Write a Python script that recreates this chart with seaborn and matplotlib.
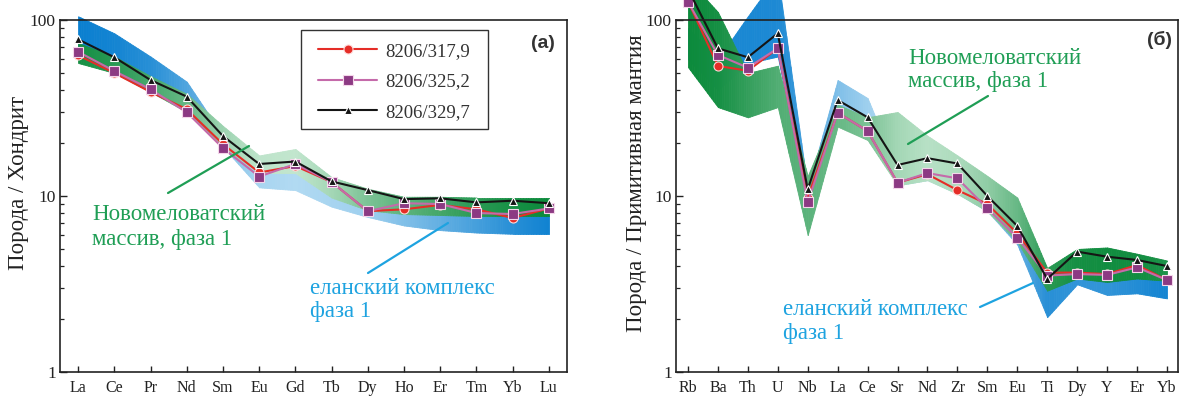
import numpy as np
import pandas as pd
import matplotlib
matplotlib.use("Agg")
import matplotlib.pyplot as plt
import matplotlib.colors as mcolors
from matplotlib.lines import Line2D
from matplotlib.patches import Rectangle
from matplotlib.ticker import FixedLocator, FixedFormatter, LogLocator, NullFormatter
import seaborn as sns

# ---------------- data ----------------
ree = ['La', 'Ce', 'Pr', 'Nd', 'Sm', 'Eu', 'Gd', 'Tb', 'Dy', 'Ho', 'Er', 'Tm', 'Yb', 'Lu']
ree_317 = [63, 50, 39, 31.1, 19.7, 13.6, 14.8, 12.0, 8.2, 8.4, 8.9, 8.4, 7.5, 8.5]
ree_325 = [66, 51.3, 40.4, 29.9, 18.7, 12.9, 15.2, 12.0, 8.2, 9.1, 9.0, 8.0, 7.9, 8.5]
ree_329 = [77.6, 61.4, 45.6, 36.7, 21.9, 15.2, 15.7, 12.1, 10.8, 9.6, 9.7, 9.2, 9.4, 9.1]
# field envelopes (chondrite)
ree_nov_hi = [74, 62, 48, 38, 25, 17.0, 18.5, 12.8, 11.0, 9.9, 9.9, 9.8, 9.8, 9.8]
ree_nov_lo = [57, 50, 39, 30, 19, 13.5, 13.5, 9.8, 8.3, 7.9, 7.8, 7.7, 7.7, 7.7]
ree_elan_hi = [105, 84, 62, 44.6, 22, 14.0, 13.5, 9.8, 8.3, 7.9, 7.8, 7.7, 7.7, 7.7]
ree_elan_lo = [60, 52, 40, 31, 19, 11.2, 10.8, 8.7, 7.6, 6.8, 6.4, 6.2, 6.1, 6.1]

spd = ['Rb', 'Ba', 'Th', 'U', 'Nb', 'La', 'Ce', 'Sr', 'Nd', 'Zr', 'Sm', 'Eu', 'Ti', 'Dy', 'Y', 'Er', 'Yb']
spd_317 = [128, 54.8, 51.5, 69, 9.8, 29.7, 23.4, 11.9, 13.3, 10.8, 9.0, 6.14, 3.67, 3.67, 3.6, 4.05, 3.33]
spd_325 = [127, 63.3, 53.6, 69, 9.2, 29.7, 23.4, 11.9, 13.5, 12.6, 8.5, 5.8, 3.53, 3.6, 3.56, 3.93, 3.33]
spd_329 = [150, 69, 61.4, 84, 10.9, 35.1, 28, 15.0, 16.4, 15.3, 10.0, 6.76, 3.38, 4.83, 4.52, 4.33, 4.0]
# field envelopes (primitive mantle)
spd_nov_hi = [170, 111, 50, 55, 13, 33, 28, 30, 22, 17, 13, 9.8, 3.9, 5.0, 5.1, 4.7, 4.3]
spd_nov_lo = [54, 32, 28, 32, 6, 24.8, 20.8, 11.5, 12.3, 10.3, 8.2, 5.5, 2.9, 3.4, 3.25, 3.4, 3.3]
spd_elan_hi = [90, 60, 105, 180, 11, 45.6, 36, 14, 14.5, 13, 10, 6.8, 3.0, 3.6, 3.3, 3.4, 3.3]
spd_elan_lo = [60, 40, 56.8, 62, 9, 33, 27, 11.5, 12.3, 10.3, 8.2, 5.3, 2.05, 3.15, 2.74, 2.8, 2.62]

samples = ['8206/317,9', '8206/325,2', '8206/329,7']
ytick_vals = [1, 10, 100]
ytick_text = ['1', '10', '100']

# ---------------- style ----------------
sns.set_theme(style="white")
plt.rcParams['font.family'] = ['Liberation Serif', 'DejaVu Serif']

W, H = 1180, 396
fig = plt.figure(figsize=(W / 100, H / 100), dpi=100)
fig.patch.set_facecolor('white')


def P(x, y):
    return (x / W, 1 - y / H)


ax1 = fig.add_axes([60 / W, 24 / H, 507 / W, 352 / H])
ax2 = fig.add_axes([676 / W, 24 / H, 502 / W, 352 / H])

GREEN_D, GREEN_L = '#0b8a3b', '#d6f0de'
BLUE_D, BLUE_L = '#0a7fd0', '#cfeaf8'

# gradient shading (0 = dark, 1 = light) along x
ree_nov_shade = [0.05, 0.15, 0.3, 0.45, 0.72, 0.88, 0.9, 0.75, 0.55, 0.4, 0.28, 0.15, 0.06, 0.0]
ree_elan_shade = [0.0, 0.05, 0.15, 0.35, 0.6, 0.8, 0.85, 0.8, 0.75, 0.6, 0.45, 0.3, 0.15, 0.03]
spd_nov_shade = [0.0, 0.05, 0.2, 0.35, 0.4, 0.45, 0.55, 0.75, 0.85, 0.8, 0.65, 0.45, 0.15, 0.05, 0.03, 0.03, 0.08]
spd_elan_shade = [0.1, 0.1, 0.08, 0.1, 0.3, 0.6, 0.75, 0.9, 0.9, 0.85, 0.7, 0.45, 0.15, 0.2, 0.2, 0.12, 0.05]


def grad_band(ax, lo, hi, shade, dark, light, nsub=14, z=1):
    dark = np.array(mcolors.to_rgb(dark))
    light = np.array(mcolors.to_rgb(light))
    llo, lhi = np.log10(lo), np.log10(hi)
    xs = np.arange(len(lo))
    for i in range(len(xs) - 1):
        for k in range(nsub):
            t0, t1 = k / nsub, (k + 1) / nsub
            xa = xs[i] + t0
            xb = xs[i] + t1
            ya0 = 10 ** (llo[i] + t0 * (llo[i + 1] - llo[i]))
            yb0 = 10 ** (llo[i] + t1 * (llo[i + 1] - llo[i]))
            ya1 = 10 ** (lhi[i] + t0 * (lhi[i + 1] - lhi[i]))
            yb1 = 10 ** (lhi[i] + t1 * (lhi[i + 1] - lhi[i]))
            s = shade[i] + 0.5 * (t0 + t1) * (shade[i + 1] - shade[i])
            c = dark + s * (light - dark)
            ax.fill_between([xa, xb], [ya0, yb0], [ya1, yb1], facecolor=c,
                            edgecolor=c, linewidth=0.6, clip_on=False, zorder=z)


def draw_lines(ax, v317, v325, v329):
    x = np.arange(len(v317))
    sns.lineplot(x=x, y=v317, ax=ax, color='#e52d27', marker='o', markersize=6.5,
                 markerfacecolor='#e52d27', markeredgecolor='#ffd8d8', markeredgewidth=0.8,
                 linewidth=1.5, clip_on=False, zorder=4, legend=False)
    sns.lineplot(x=x, y=v325, ax=ax, color='#c56aaa', marker='s', markersize=7,
                 markerfacecolor='#8c3a83', markeredgecolor='#f4d6ea', markeredgewidth=0.8,
                 linewidth=1.5, clip_on=False, zorder=5, legend=False)
    sns.lineplot(x=x, y=v329, ax=ax, color='#151515', marker='^', markersize=5.5,
                 markerfacecolor='#151515', markeredgecolor='white', markeredgewidth=0.8,
                 linewidth=1.5, clip_on=False, zorder=6, legend=False)


grad_band(ax1, ree_elan_lo, ree_elan_hi, ree_elan_shade, BLUE_D, BLUE_L, z=1)
grad_band(ax1, ree_nov_lo, ree_nov_hi, ree_nov_shade, GREEN_D, GREEN_L, z=2)
draw_lines(ax1, ree_317, ree_325, ree_329)

grad_band(ax2, spd_elan_lo, spd_elan_hi, spd_elan_shade, BLUE_D, BLUE_L, z=1)
grad_band(ax2, spd_nov_lo, spd_nov_hi, spd_nov_shade, GREEN_D, GREEN_L, z=2)
draw_lines(ax2, spd_317, spd_325, spd_329)

for ax, cats, xl, ylab in [(ax1, ree, (-0.5, 13.5), 'Порода / Хондрит'),
                           (ax2, spd, (-0.4, 16.37), 'Порода / Примитивная мантия')]:
    ax.set_yscale('log')
    ax.set_ylim(1, 100)
    ax.set_xlim(*xl)
    ax.yaxis.set_major_locator(FixedLocator(ytick_vals))
    ax.yaxis.set_major_formatter(FixedFormatter(ytick_text))
    ax.yaxis.set_minor_locator(LogLocator(base=10, subs=np.arange(2, 10)))
    ax.yaxis.set_minor_formatter(NullFormatter())
    ax.set_xticks(np.arange(len(cats)))
    ax.set_xticklabels(cats)
    ax.tick_params(axis='y', which='major', direction='in', length=5, width=1.0,
                   labelsize=12.5, pad=3, left=True, colors='#222222')
    ax.tick_params(axis='y', which='minor', direction='in', length=3, width=0.9,
                   left=True, colors='#222222')
    ax.tick_params(axis='x', which='major', direction='in', length=4, width=1.0,
                   labelsize=11.5, pad=6, bottom=True, colors='#222222')
    for sp in ax.spines.values():
        sp.set_visible(True)
        sp.set_color('#222222')
        sp.set_linewidth(1.2)
        sp.set_zorder(7)
    ax.set_xlabel('')
    ax.set_ylabel(ylab, fontsize=16.5, color='#222222')
    ax.set_facecolor('none')
    ax.grid(False)

ax1.yaxis.set_label_coords(-0.062, 0.537)
ax2.yaxis.set_label_coords(-0.058, 0.537)

# legend (content + separate frame)
handles = ax1.get_lines()[:3]
leg = ax1.legend(handles, samples, loc='upper left', bbox_to_anchor=(0.509, 0.936),
                 borderaxespad=0, borderpad=0, frameon=False, fontsize=13.5,
                 handlelength=3.15, handletextpad=0.42, labelspacing=0.72)
leg.set_zorder(10)
for t in leg.get_texts():
    t.set_color('#333333')
ax1.add_patch(Rectangle((241 / 507, 243 / 352), 187 / 507, 99 / 352, transform=ax1.transAxes,
                        facecolor='white', edgecolor='#333333', linewidth=1.0, zorder=9))

# panel labels
fig.text(*P(543, 43), '(a)', fontsize=14, fontweight='bold', family='Liberation Sans',
         ha='center', va='center', color='#333333')
fig.text(*P(1160, 40), '(б)', fontsize=14, fontweight='bold', family='Liberation Sans',
         ha='center', va='center', color='#333333')

GT, BT = '#1f9e55', '#1ea3e0'
fig.text(*P(92, 227.5), 'Новомеловатский\nмассив, фаза 1', fontsize=16.5, color=GT,
         ha='left', va='center', linespacing=1.25)
fig.text(*P(310, 300), 'еланский комплекс\nфаза 1', fontsize=16.5, color=BT,
         ha='left', va='center', linespacing=1.15)
fig.text(*P(908, 70), 'Новомеловатский\nмассив, фаза 1', fontsize=16.5, color=GT,
         ha='left', va='center', linespacing=1.12)
fig.text(*P(783, 321.5), 'еланский комплекс\nфаза 1', fontsize=16.5, color=BT,
         ha='left', va='center', linespacing=1.15)

for (x0, y0, x1, y1, c) in [(168, 193, 249, 146, GT), (368, 273, 448, 223, BT),
                            (988, 96, 908, 144, GT), (980, 307, 1033, 283, BT)]:
    a, b = P(x0, y0)
    cc, d = P(x1, y1)
    fig.add_artist(Line2D([a, cc], [b, d], color=c, linewidth=1.6, zorder=8))

fig.savefig('out.png', dpi=100, facecolor='white')
